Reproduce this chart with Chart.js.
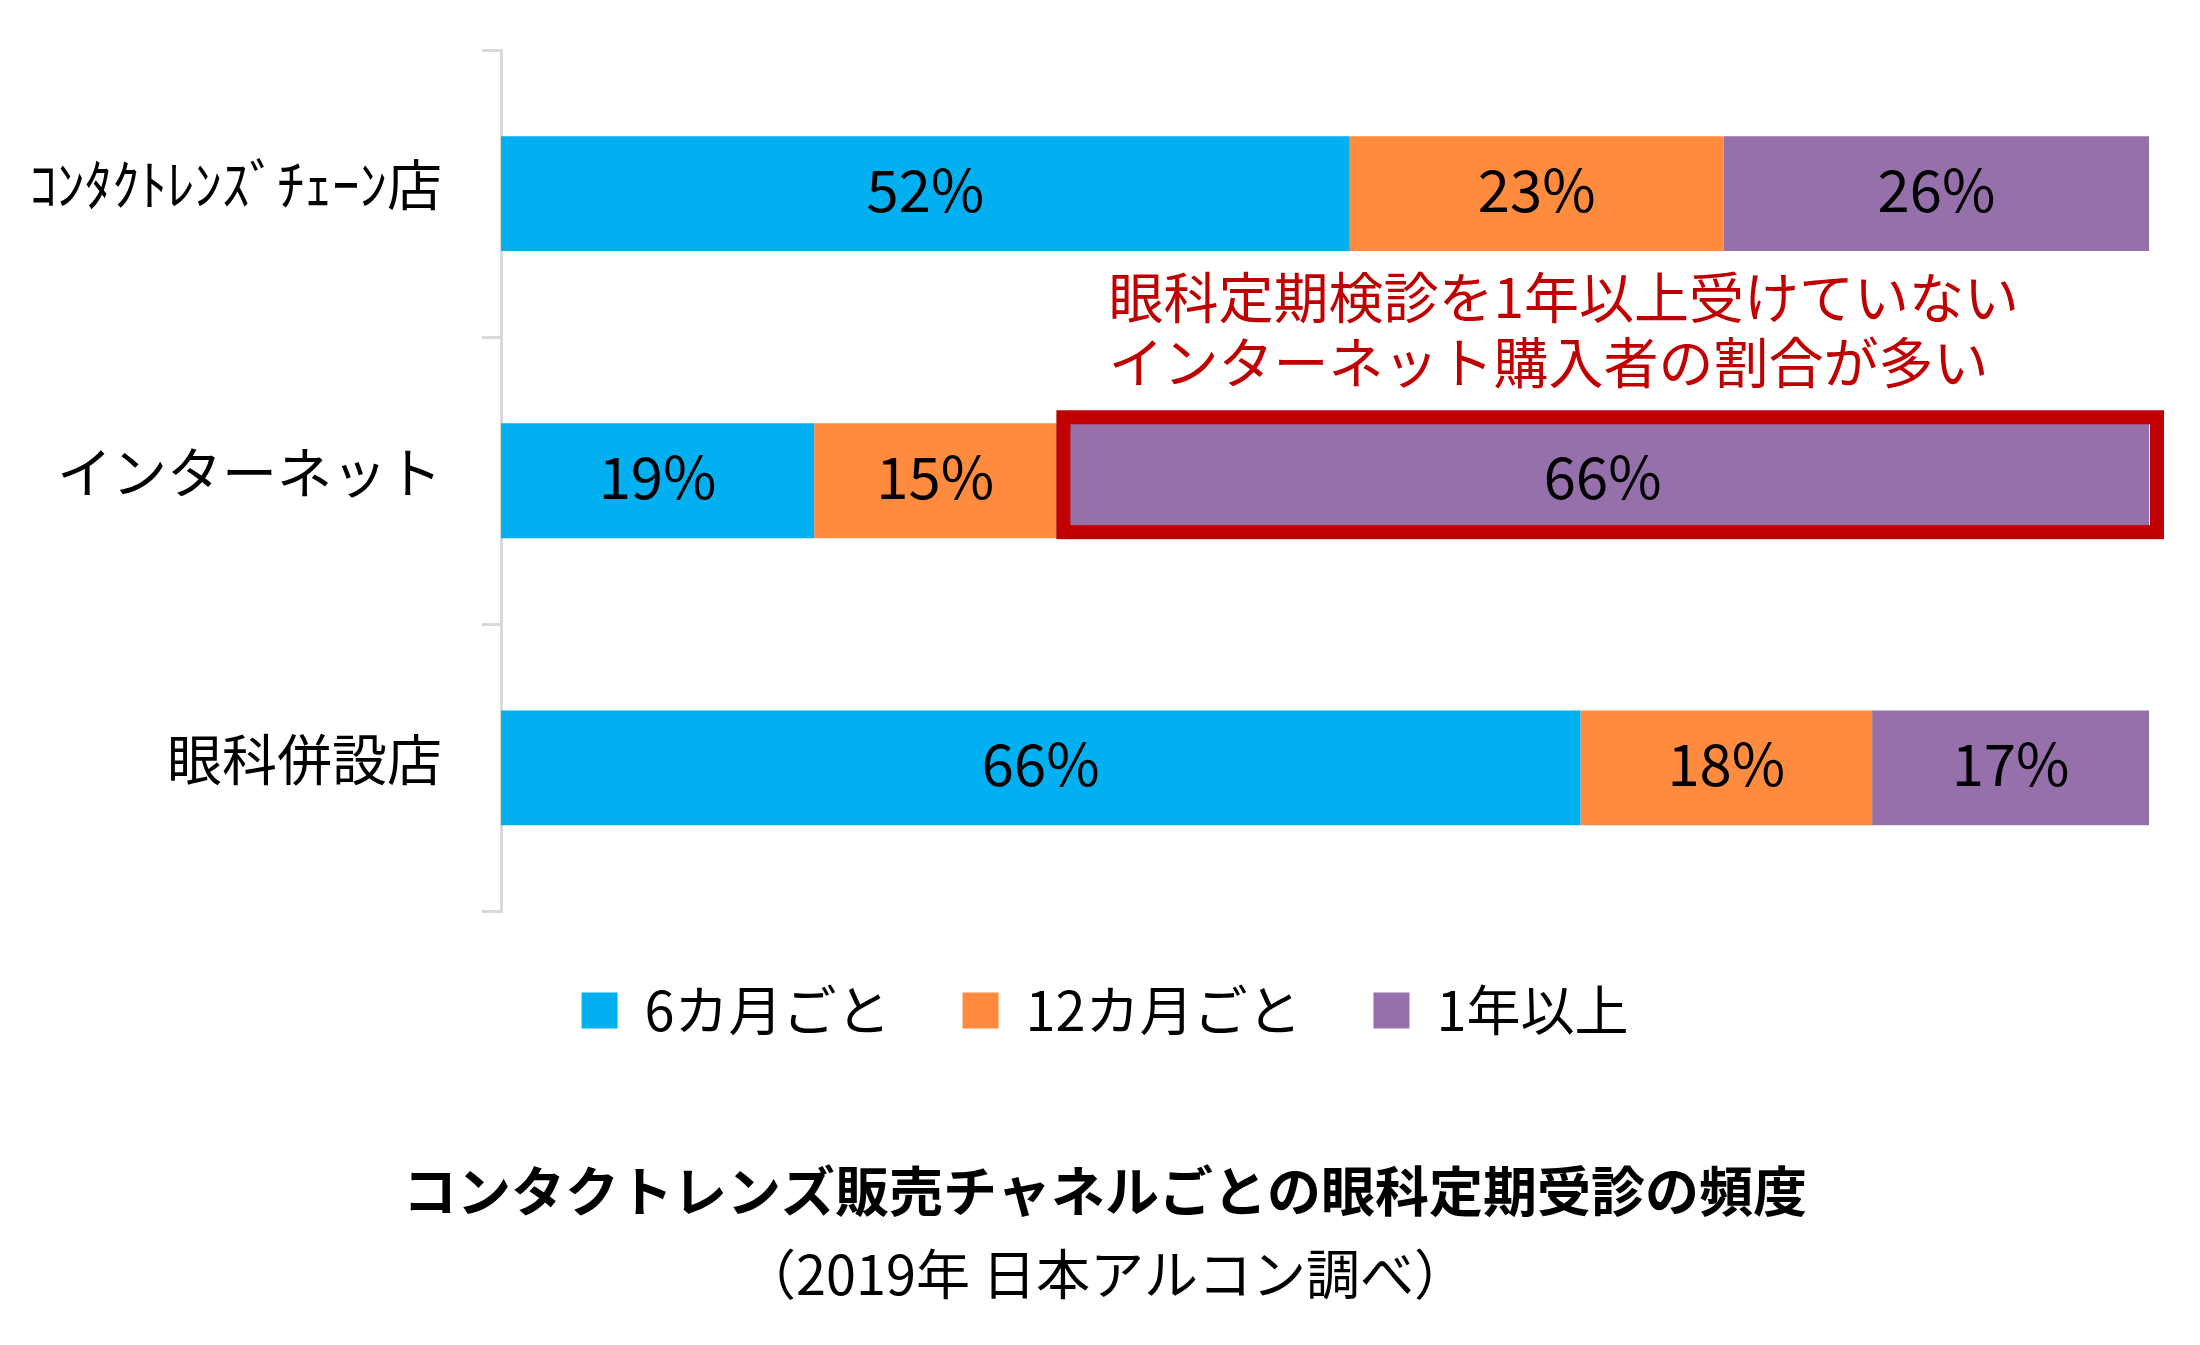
<!DOCTYPE html>
<html>
<head>
<meta charset="utf-8">
<script src="https://cdn.jsdelivr.net/npm/chart.js@4.4.1/dist/chart.umd.min.js"></script>
<style>
  html, body { margin: 0; padding: 0; background: #ffffff; }
  #wrap { width: 2200px; height: 1345px; position: relative; }
</style>
</head>
<body>
<div id="wrap"><canvas id="c" width="2200" height="1345"></canvas></div>
<script>
// ---- data ----
const categories = ['ｺﾝﾀｸﾄﾚﾝｽﾞﾁｪｰﾝ店', 'インターネット', '眼科併設店'];
const seriesNames = ['6カ月ごと', '12カ月ごと', '1年以上'];
const sixMonths = [51.5, 19.0, 65.5];
const twelveMonths = [22.7, 14.7, 17.7];
const overOneYear = [25.8, 66.3, 16.8];
const axisMin = 0;
const axisMax = 100;
const calloutLines = ['眼科定期検診を1年以上受けていない', 'インターネット購入者の割合が多い'];
const highlightSeries = 2;   // 1年以上
const highlightCategory = 1; // インターネット
const chartTitle = 'コンタクトレンズ販売チャネルごとの眼科定期受診の頻度';
const chartSubtitle = '（2019年 日本アルコン調べ）';

// ---- style ----
const FONT = '"Noto Sans CJK JP", "Noto Sans", sans-serif';
const colors = ['#00B0F0', '#FF8B3F', '#9670AB'];
const RED = '#C00000';
Chart.defaults.font.family = FONT;
Chart.defaults.color = '#000000';

const valueLabels = {
  id: 'valueLabels',
  afterDatasetsDraw(chart) {
    const ctx = chart.ctx;
    ctx.save();
    ctx.font = '58px ' + FONT;
    ctx.fillStyle = '#000000';
    ctx.textAlign = 'center';
    ctx.textBaseline = 'middle';
    chart.data.datasets.forEach((ds, di) => {
      const meta = chart.getDatasetMeta(di);
      meta.data.forEach((el, i) => {
        const cx = (el.x + el.base) / 2;
        ctx.fillText(Math.round(ds.data[i]) + '%', cx, el.y - 4);
      });
    });
    ctx.restore();
  }
};

const callout = {
  id: 'callout',
  afterDatasetsDraw(chart) {
    const ctx = chart.ctx;
    const el = chart.getDatasetMeta(highlightSeries).data[highlightCategory];
    const left = Math.min(el.x, el.base);
    const right = Math.max(el.x, el.base);
    const top = el.y - el.height / 2;
    const bottom = el.y + el.height / 2;
    ctx.save();
    ctx.strokeStyle = RED;
    ctx.lineWidth = 14;
    ctx.strokeRect(left + 7, top - 6, (right + 8) - (left + 7), (bottom - 6) - (top - 6));
    ctx.fillStyle = RED;
    ctx.font = '55px ' + FONT;
    ctx.textAlign = 'left';
    ctx.textBaseline = 'middle';
    ctx.fillText(calloutLines[0], left + 52, el.y - 184);
    ctx.fillText(calloutLines[1], left + 52, el.y - 119);
    ctx.restore();
  }
};

new Chart(document.getElementById('c'), {
  type: 'bar',
  data: {
    labels: categories,
    datasets: [
      { label: seriesNames[0], data: sixMonths, backgroundColor: colors[0], borderWidth: 0 },
      { label: seriesNames[1], data: twelveMonths, backgroundColor: colors[1], borderWidth: 0 },
      { label: seriesNames[2], data: overOneYear, backgroundColor: colors[2], borderWidth: 0 }
    ]
  },
  options: {
    indexAxis: 'y',
    responsive: false,
    animation: false,
    devicePixelRatio: 1,
    datasets: { bar: { barPercentage: 0.4, categoryPercentage: 1.0 } },
    layout: { padding: { top: 50, right: 0, bottom: 38, left: 10 } },
    scales: {
      x: { stacked: true, min: axisMin, max: axisMax, display: false },
      y: {
        stacked: true,
        z: 1,
        border: { display: true, color: '#D9D9D9', width: 3 },
        grid: { display: true, drawOnChartArea: false, drawTicks: true, tickLength: 19, color: '#D9D9D9', lineWidth: 3, offset: true },
        ticks: { font: { size: 55 }, color: '#000000', padding: 40, labelOffset: -9 },
        afterFit(scale) {
          scale.width = 491;
          scale.paddingTop = 0;
          scale.paddingBottom = 0;
        }
      },
      yRight: {
        axis: 'y',
        type: 'category',
        position: 'right',
        display: true,
        grid: { display: false, drawTicks: false },
        border: { display: false },
        ticks: { display: false },
        afterFit(scale) {
          scale.width = 51;
          scale.paddingTop = 0;
          scale.paddingBottom = 0;
        }
      }
    },
    plugins: {
      tooltip: { enabled: false },
      legend: {
        position: 'bottom',
        labels: { font: { size: 54 }, color: '#000000', boxWidth: 36, boxHeight: 36, padding: 72 }
      },
      title: {
        display: true, text: chartTitle, position: 'bottom', weight: 1200,
        font: { size: 54, weight: 'bold' }, color: '#000000', padding: { top: 112, bottom: 0 }
      },
      subtitle: {
        display: true, text: chartSubtitle, position: 'bottom',
        font: { size: 54 }, color: '#000000', padding: { top: 18, bottom: 0 }
      }
    }
  },
  plugins: [valueLabels, callout]
});
</script>
</body>
</html>
